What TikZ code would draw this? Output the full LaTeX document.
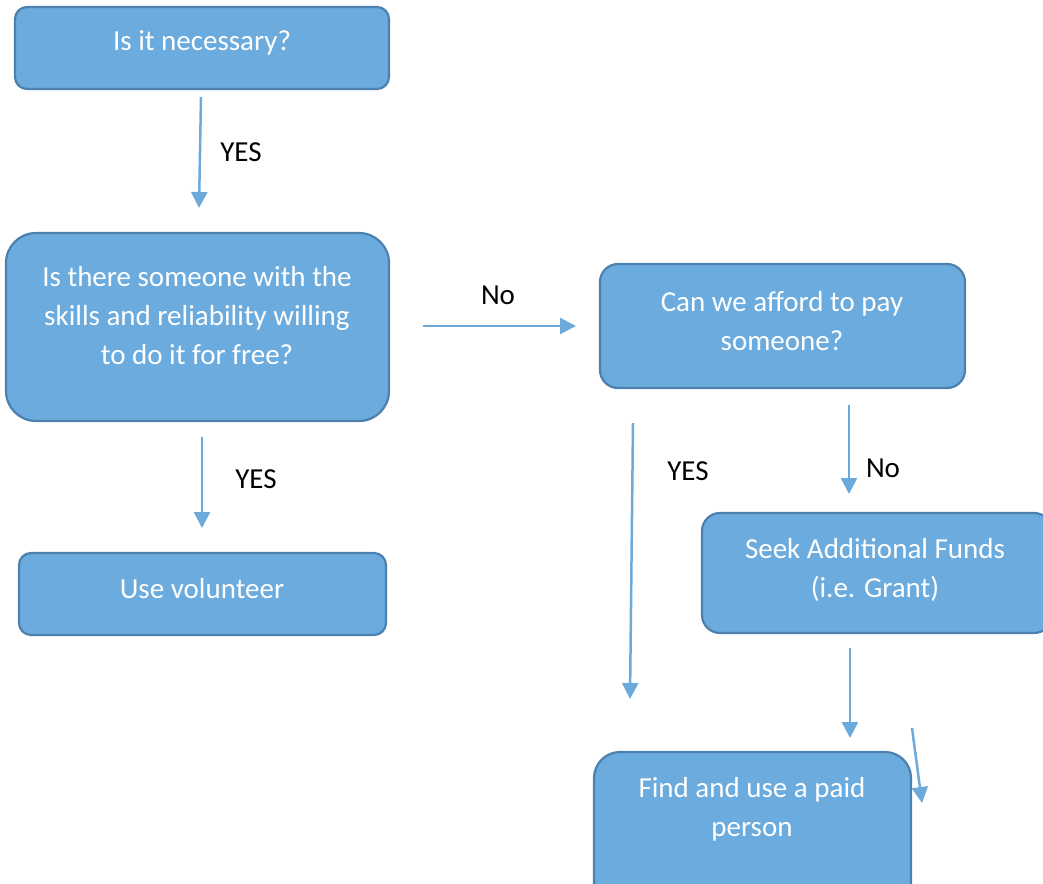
\documentclass[tikz,border=0pt]{standalone}
\usepackage{fontspec}
\setmainfont{Carlito}
\usetikzlibrary{arrows.meta}
\definecolor{boxfill}{RGB}{107,171,221}
\definecolor{boxline}{RGB}{76,128,175}
\definecolor{arr}{RGB}{108,170,220}
\tikzset{
  box/.style={draw=boxline, fill=boxfill, line width=2.2pt, inner sep=0pt},
  boxtext/.style={text=white, align=center, font=\fontsize{29}{39}\selectfont, inner sep=0pt},
  lbl/.style={text=black, font=\fontsize{29}{39}\selectfont, inner sep=0pt},
  flow/.style={draw=arr, line width=2.5pt, -{Triangle[width=16pt,length=16pt]}}
}
\begin{document}
\begin{tikzpicture}[x=1pt,y=-1pt]
\useasboundingbox (0,0) rectangle (1043,883);
\clip (0,0) rectangle (1043,883);
% boxes
\draw[box, rounded corners=12pt] (15,7) rectangle (389,89) node[pos=0.5] (A) {};
\draw[box, rounded corners=30pt] (6,233) rectangle (389,421) node[pos=0.5] (B) {};
\draw[box, rounded corners=12pt] (19,553) rectangle (386,635) node[pos=0.5] (C) {};
\draw[box, rounded corners=18pt] (600,264) rectangle (965,388) node[pos=0.5] (D) {};
\draw[box, rounded corners=18pt] (702,513) rectangle (1052,633) node[pos=0.5] (E) {};
\draw[box, rounded corners=26pt] (594,752) rectangle (911,930) node[pos=0.5] (F) {};
% texts
\node[boxtext] (At) at (202,43) {Is it necessary?};
\node[boxtext] (Bt) at (197,316) {Is there someone with the\\skills and reliability willing\\to do it for free?};
\node[boxtext] (Ct) at (202,589) {Use volunteer};
\node[boxtext] (Dt) at (782,321) {Can we afford to pay\\someone?};
\node[boxtext] (Et) at (875,570) {Seek Additional Funds\\(i.e. Grant)};
\node[boxtext] (Ft) at (752,809) {Find and use a paid\\person};
% arrow endpoints
\coordinate (a1s) at (201,97);  \coordinate (a1e) at (199,208);
\coordinate (a2s) at (202,437); \coordinate (a2e) at (202,528);
\coordinate (a3s) at (423,326); \coordinate (a3e) at (576,326);
\coordinate (a4s) at (633,423); \coordinate (a4e) at (630,699);
\coordinate (a5s) at (849,405); \coordinate (a5e) at (849,494);
\coordinate (a6s) at (850,648); \coordinate (a6e) at (850,738);
\coordinate (a7s) at (912,728); \coordinate (a7e) at (922,803);
\draw[flow] (a1s) -- (a1e);
\draw[flow] (a2s) -- (a2e);
\draw[flow] (a3s) -- (a3e);
\draw[flow] (a4s) -- (a4e);
\draw[flow] (a5s) -- (a5e);
\draw[flow] (a6s) -- (a6e);
\draw[flow] (a7s) -- (a7e);
% labels
\node[lbl] (l1) at (241,152) {YES};
\node[lbl] (l2) at (256,479) {YES};
\node[lbl] (l3) at (498,295) {No};
\node[lbl] (l4) at (688,471) {YES};
\node[lbl] (l5) at (883,468) {No};
\end{tikzpicture}
\end{document}
